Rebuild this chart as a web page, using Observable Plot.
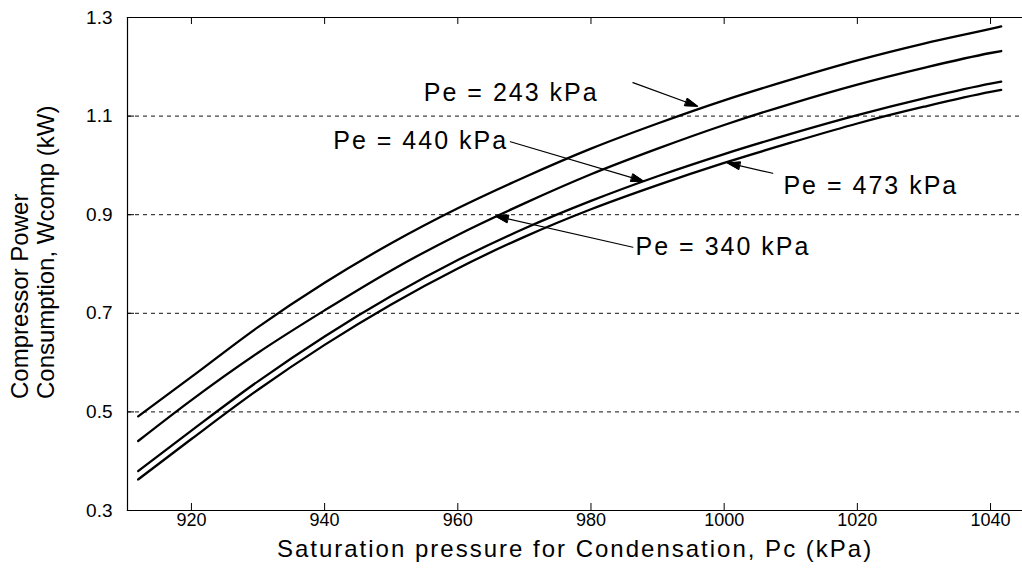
<!DOCTYPE html>
<html><head><meta charset="utf-8">
<script src="https://cdn.jsdelivr.net/npm/d3@7"></script>
<script src="https://cdn.jsdelivr.net/npm/@observablehq/plot@0.6"></script>
<style>body{margin:0;background:#fff} svg{display:block}</style>
</head><body><div id="chart"></div>
<script>
// Saturation pressure for condensation, Pc (kPa)
const pc     = [912, 920, 930, 940, 950, 960, 970, 980, 990, 1000, 1010, 1020, 1030, 1040, 1041.6];
// Compressor power consumption (kW) for each evaporation pressure
const pe243  = [0.491, 0.571, 0.672, 0.762, 0.842, 0.913, 0.976, 1.034, 1.085, 1.132, 1.174, 1.213, 1.247, 1.277, 1.282];
const pe340  = [0.441, 0.524, 0.620, 0.706, 0.787, 0.859, 0.923, 0.982, 1.034, 1.082, 1.125, 1.164, 1.198, 1.228, 1.232];
const pe440  = [0.380, 0.462, 0.562, 0.653, 0.735, 0.808, 0.872, 0.928, 0.978, 1.023, 1.064, 1.102, 1.136, 1.166, 1.170];
const pe473  = [0.363, 0.445, 0.545, 0.636, 0.718, 0.791, 0.855, 0.911, 0.960, 1.005, 1.046, 1.085, 1.119, 1.149, 1.153];
const seriesNames = ["Pe = 243 kPa", "Pe = 340 kPa", "Pe = 440 kPa", "Pe = 473 kPa"];
const seriesValues = [pe243, pe340, pe440, pe473];

const xTicks = [920, 940, 960, 980, 1000, 1020, 1040];
const xTickLabels = ["920", "940", "960", "980", "1000", "1020", "1040"];
const yTicks = [0.3, 0.5, 0.7, 0.9, 1.1, 1.3];
const yTickLabels = ["0.3", "0.5", "0.7", "0.9", "1.1", "1.3"];
const gridY = [0.5, 0.7, 0.9, 1.1];
const xLabel = "Saturation pressure for Condensation, Pc (kPa)";
const yLabel1 = "Compressor Power";
const yLabel2 = "Consumption, Wcomp (kW)";

// annotation labels and arrows (data units)
const annLabels = ["Pe = 243 kPa", "Pe = 440 kPa", "Pe = 473 kPa", "Pe = 340 kPa"];
const annTextX  = [954.9, 941.3, 1008.9, 986.7];
const annTextY  = [1.146, 1.050, 0.959, 0.834];
const annFromX  = [986.3, 967.9, 1007.3, 986.3];
const annFromY  = [1.168, 1.048, 0.984, 0.834];
const annToX    = [996.0, 987.9, 1000.5, 965.7];
const annToY    = [1.120, 0.968, 1.005, 0.897];

const rows = seriesNames.flatMap((s, k) => pc.map((x, i) => ({series: s, pc: x, w: seriesValues[k][i]})));
const ann = annLabels.map((label, i) => ({label, tx: annTextX[i], ty: annTextY[i],
  x1: annFromX[i], y1: annFromY[i], x2: annToX[i], y2: annToY[i]}));

const W = 1022, H = 573, mL = 127, mR = 0, mT = 17, mB = 63;
const fw = W - mL - mR, fh = H - mT - mB, tick = 7;
const font = "'Liberation Sans', Arial, Helvetica, sans-serif";

const chart = Plot.plot({
  width: W, height: H,
  marginLeft: mL, marginRight: mR, marginTop: mT, marginBottom: mB,
  style: {fontFamily: font, background: "white", color: "black"},
  x: {domain: [910.4, 1044.8]},
  y: {domain: [0.3, 1.3]},
  marks: [
    Plot.ruleY(gridY, {y: d => d, stroke: "#111", strokeWidth: 1, strokeDasharray: "4,4"}),
    Plot.frame({anchor: "top", stroke: "black", strokeWidth: 1.2}),
    Plot.frame({anchor: "bottom", stroke: "black", strokeWidth: 1.2}),
    Plot.frame({anchor: "left", stroke: "black", strokeWidth: 1.2}),
    Plot.tickX(xTicks, {x: d => d, insetTop: fh - tick, stroke: "black"}),
    Plot.tickX(xTicks, {x: d => d, insetBottom: fh - tick, stroke: "black"}),
    Plot.tickY(yTicks, {y: d => d, insetRight: fw - tick, stroke: "black"}),
    Plot.axisX(xTicks, {tickSize: 0, tickPadding: 3, fontSize: 18, label: null,
      tickFormat: d => xTickLabels[xTicks.indexOf(d)]}),
    Plot.axisY(yTicks, {tickSize: 0, tickPadding: 15, fontSize: 19, label: null,
      tickFormat: d => yTickLabels[yTicks.indexOf(d)]}),
    Plot.line(rows, {x: "pc", y: "w", z: "series", stroke: "black", strokeWidth: 2.3, curve: "monotone-x"}),
    Plot.arrow(ann, {x1: "x1", y1: "y1", x2: "x2", y2: "y2", stroke: "black", strokeWidth: 1.2,
      headLength: 16, headAngle: 34, className: "ann-arrow"}),
    Plot.text(ann, {x: "tx", y: "ty", text: "label", textAnchor: "start", fontSize: 25, fill: "black",
      className: "ann-text"}),
    Plot.text([xLabel], {frameAnchor: "bottom", textAnchor: "middle", dy: 46, fontSize: 24, fill: "black",
      className: "x-label"}),
    Plot.text([yLabel1], {frameAnchor: "left", textAnchor: "start", rotate: -90, dx: -107, dy: 135, fontSize: 24, fill: "black"}),
    Plot.text([yLabel2], {frameAnchor: "left", textAnchor: "start", rotate: -90, dx: -81, dy: 135, fontSize: 24, fill: "black"})
  ]
});
// filled arrowheads like the original figure
d3.select(chart).selectAll("g.ann-arrow path").each(function() {
  const nums = (this.getAttribute("d").match(/-?\d*\.?\d+(e-?\d+)?/g) || []).map(Number);
  if (nums.length >= 6) {
    const p = nums.slice(-6);
    d3.select(this.parentNode).append("path")
      .attr("d", `M${p[0]},${p[1]}L${p[2]},${p[3]}L${p[4]},${p[5]}Z`)
      .attr("fill", "black").attr("stroke", "black").attr("stroke-width", 1);
  }
});
d3.select(chart).selectAll("g.ann-text text").attr("letter-spacing", "2px");
d3.select(chart).selectAll("g.x-label text").attr("letter-spacing", "2px");
document.getElementById("chart").append(chart);
</script>
</body></html>
